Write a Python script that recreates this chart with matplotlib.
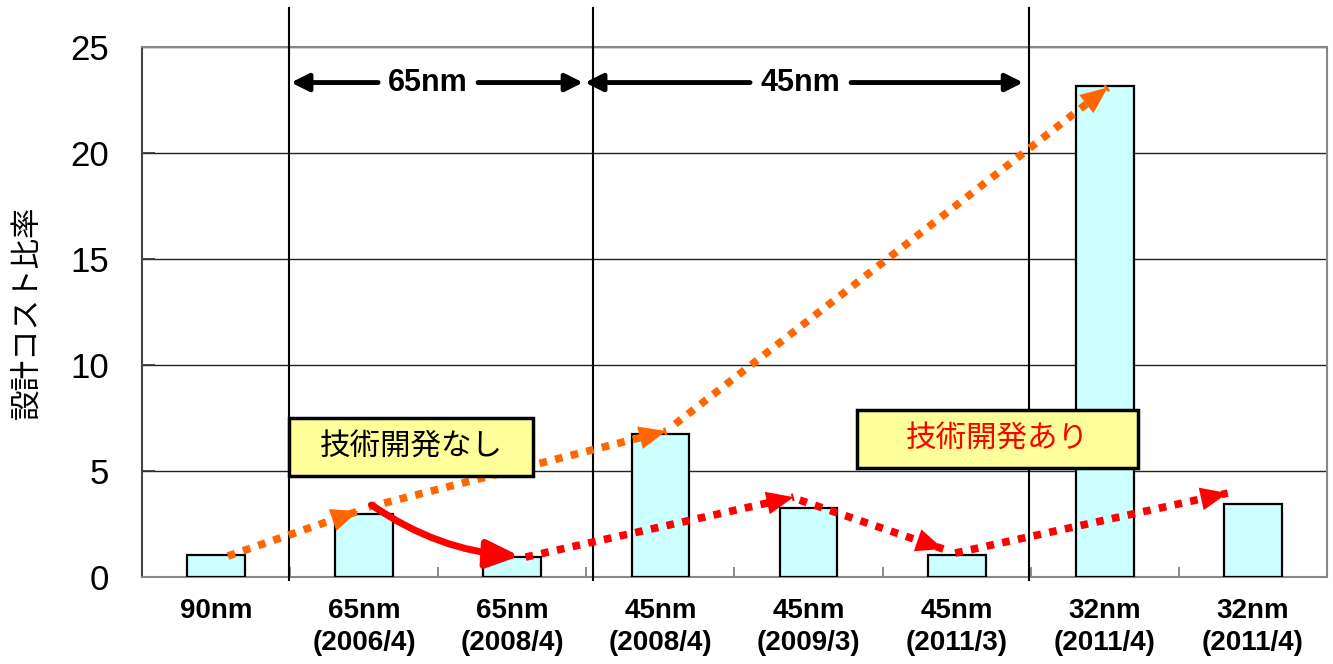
import matplotlib
matplotlib.use('Agg')
import matplotlib.pyplot as plt
from matplotlib.patches import Rectangle, FancyArrowPatch

plt.rcParams['font.family'] = ['Liberation Sans', 'Noto Sans CJK JP', 'DejaVu Sans']

# bar data
categories = ['90nm', '65nm\n(2006/4)', '65nm\n(2008/4)', '45nm\n(2008/4)',
              '45nm\n(2009/3)', '45nm\n(2011/3)', '32nm\n(2011/4)', '32nm\n(2011/4)']
cost_ratio = [1.03, 2.96, 0.93, 6.73, 3.25, 1.04, 23.15, 3.46]
y_ticks = [0, 5, 10, 15, 20, 25]

# node boundaries and span arrows
node_lines = [0.493, 2.545, 5.489]
spans = [('65nm', 0.506, 1.094, 1.431, 1.769, 2.478),
         ('45nm', 2.491, 3.605, 3.943, 4.287, 5.449)]
span_y = 23.33

# trend arrows (x, y in data units): start, tip
orange_arrows = [((0.08, 0.99), (0.96, 3.11)),
                 ((1.03, 3.30), (3.04, 6.89)),
                 ((3.10, 7.22), (6.02, 23.10))]
red_dotted = [((2.09, 0.94), (3.90, 3.77)),
              ((3.94, 3.63), (4.91, 1.32)),
              ((4.99, 1.13), (6.83, 3.96))]
red_solid = ((1.05, 3.40), (2.05, 0.99))

ORANGE = '#FF6600'
RED = '#FF0000'
HEAD = '-|>,head_length=0.85,head_width=0.36'

fig = plt.figure(figsize=(13.33, 6.64), dpi=100)
ax = fig.add_axes([0.1065, 0.131, 0.889, 0.798])

x = list(range(len(categories)))
ax.bar(x, cost_ratio, width=0.39, color='#CCFFFF', edgecolor='black',
       linewidth=1.6, zorder=3)

ax.set_xlim(-0.5, len(categories) - 0.5)
ax.set_ylim(0, 25)
ax.set_yticks(y_ticks)
ax.set_yticklabels([str(t) for t in y_ticks], fontsize=25)
ax.tick_params(axis='y', direction='in', length=9, width=1.2, pad=24, color='#333333')
ax.set_xticks(x)
ax.set_xticklabels(categories, fontsize=20, fontweight='bold', linespacing=1.3)
ax.tick_params(axis='x', which='major', length=0, pad=15)
ax.set_xticks([i + 0.5 for i in x[:-1]], minor=True)
ax.tick_params(axis='x', which='minor', direction='in', length=7, width=1.2, color='#777777')

ax.grid(axis='y', color='#222222', linewidth=1.0, zorder=0)
for side in ['top', 'right', 'bottom']:
    ax.spines[side].set_color('#888888')
    ax.spines[side].set_linewidth(1.5)
ax.spines['left'].set_color('#444444')
ax.spines['left'].set_linewidth(1.5)

ax.set_ylabel('設計コスト比率', fontsize=22, family=['Noto Sans CJK JP', 'DejaVu Sans'])
ax.yaxis.set_label_coords(-0.084, 0.5)

for xv in node_lines:
    ax.axvline(xv, ymin=-0.006, ymax=1.074, color='black', linewidth=1.5,
               clip_on=False, zorder=4)

# node span double arrows with label in the gap
for label, left_tip, left_end, mid, right_start, right_tip in spans:
    for tail, tip in [(left_end, left_tip), (right_start, right_tip)]:
        ax.annotate('', xy=(tip, span_y), xytext=(tail, span_y),
                    arrowprops=dict(arrowstyle='-|>,head_length=0.7,head_width=0.35',
                                    mutation_scale=15, color='black', lw=3.5,
                                    shrinkA=0, shrinkB=0), zorder=5)
    ax.text(mid, span_y, label, ha='center', va='center', fontsize=22,
            fontweight='bold', zorder=5)


def dotted_arrow(start, tip, color):
    # square-dotted shaft, solid filled head
    ax.plot([start[0], tip[0]], [start[1], tip[1]], color=color, lw=5.5,
            dashes=(1, 1.1), dash_capstyle='butt', zorder=6)
    back = (start[0] + 0.8 * (tip[0] - start[0]), start[1] + 0.8 * (tip[1] - start[1]))
    ax.add_patch(FancyArrowPatch(back, tip, arrowstyle=HEAD, mutation_scale=23,
                                 facecolor=color, edgecolor=color, lw=0,
                                 shrinkA=0, shrinkB=0, zorder=7))


for start, tip in orange_arrows:
    dotted_arrow(start, tip, ORANGE)
for start, tip in red_dotted:
    dotted_arrow(start, tip, RED)

ax.add_patch(FancyArrowPatch(red_solid[0], red_solid[1],
                             connectionstyle='arc3,rad=0.14',
                             arrowstyle=HEAD, mutation_scale=23, color=RED, lw=5,
                             shrinkA=0, shrinkB=0, zorder=6))

# callout boxes
boxes = [(0.493, 4.76, 1.647, 2.74, '技術開発なし', 'black'),
         (4.328, 5.14, 1.897, 2.74, '技術開発あり', RED)]
for bx, by, bw, bh, txt, tc in boxes:
    ax.add_patch(Rectangle((bx, by), bw, bh, facecolor='#FFFF99', edgecolor='black',
                           linewidth=2.5, zorder=8))
    ax.text(bx + bw / 2, by + bh / 2, txt, ha='center', va='center', fontsize=22,
            color=tc, family=['Noto Sans CJK JP', 'DejaVu Sans'], zorder=9)

fig.savefig('out.png', dpi=100)
